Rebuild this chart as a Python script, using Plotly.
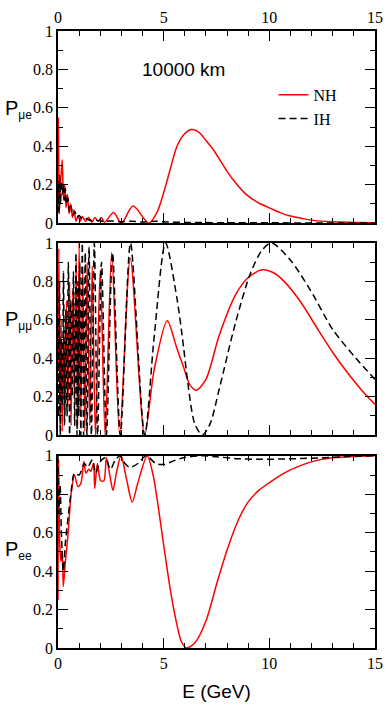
import plotly.graph_objects as go

# P_mu_e (painel de cima)
e_me_nh = [0, 0.02, 0.06, 0.12, 0.2, 0.26, 0.32, 0.38, 0.45, 0.52, 0.6, 0.68, 0.76, 0.85, 0.95, 1.05,
           1.15, 1.3, 1.45, 1.6, 1.75, 1.9, 2.05, 2.2, 2.63, 3.0, 3.55, 4.3, 4.71, 5.02, 5.32, 5.63,
           5.95, 6.3, 6.7, 7.0, 7.3, 7.6, 8.0, 8.4, 8.9, 9.5, 10.0, 10.5, 11.0, 11.5, 12.0, 13.0, 14.0, 15.0]
p_me_nh = [0.1, 0.55, 0.05, 0.2, 0.33, 0.12, 0.2, 0.08, 0.15, 0.05, 0.1, 0.03, 0.07, 0.01, 0.04, 0.01,
           0.035, 0.01, 0.03, 0.005, 0.03, 0.01, 0.03, 0.005, 0.055, 0.0, 0.089, 0.0, 0.063, 0.166, 0.285, 0.40,
           0.46, 0.487, 0.47, 0.43, 0.39, 0.34, 0.27, 0.21, 0.15, 0.105, 0.08, 0.055, 0.037, 0.026, 0.016,
           0.007, 0.004, 0.002]
e_me_ih = [0, 0.04, 0.08, 0.12, 0.16, 0.2, 0.25, 0.3, 0.35, 0.4, 0.47, 0.55, 0.62, 0.7, 0.8, 0.9, 1.0,
           1.15, 1.3, 1.5, 1.8, 2.2, 2.6, 3.0, 3.5, 4.0, 4.6, 5.2, 6.0, 7.0, 8.0, 10.0, 12.0, 15.0]
p_me_ih = [0.2, 0.05, 0.25, 0.1, 0.22, 0.15, 0.2, 0.12, 0.18, 0.1, 0.13, 0.06, 0.09, 0.04, 0.06, 0.03, 0.04,
           0.02, 0.025, 0.015, 0.015, 0.01, 0.012, 0.008, 0.01, 0.006, 0.01, 0.006, 0.004, 0.003, 0.002, 0.002,
           0.001, 0.001]

# P_mu_mu (painel do meio)
e_mm_nh = [0, 0.04, 0.1, 0.15, 0.2, 0.27, 0.33, 0.4, 0.47, 0.55, 0.62, 0.7, 0.78, 0.86, 0.93, 1.0, 1.08,
           1.17, 1.27, 1.38, 1.5, 1.62, 1.77, 2.0, 2.23, 2.54, 2.92, 3.42, 4.1, 4.55, 5.17, 5.6, 5.94, 6.25,
           6.55, 7.0, 7.63, 8.4, 9.0, 9.65, 10.2, 10.7, 11.5, 12.24, 13.0, 13.8, 14.4, 15.0]
p_mm_nh = [0.35, 0.97, 0.05, 0.6, 0.02, 0.55, 0.1, 0.7, 0.15, 0.8, 0.05, 0.75, 0.2, 0.9, 0.05, 1.0, 0.1,
           0.85, 0.02, 0.9, 0.05, 0.88, 0.0, 0.86, 0.0, 0.95, 0.0, 0.92, 0.0, 0.34, 0.595, 0.46, 0.354, 0.26,
           0.234, 0.29, 0.52, 0.73, 0.82, 0.86, 0.845, 0.80, 0.69, 0.56, 0.43, 0.31, 0.23, 0.16]
e_mm_ih = [0, 0.03, 0.07, 0.11, 0.16, 0.21, 0.26, 0.31, 0.37, 0.43, 0.49, 0.55, 0.61, 0.67, 0.73, 0.79,
           0.85, 0.9, 0.94, 0.98, 1.03, 1.08, 1.15, 1.21, 1.29, 1.37, 1.47, 1.58, 1.72, 1.87, 2.06, 2.29,
           2.58, 2.95, 3.43, 4.1, 4.55, 5.09, 5.63, 5.94, 6.09, 6.47, 6.83, 7.2, 7.63, 8.4, 9.1, 9.64, 10.1,
           11.0, 11.94, 13.0, 14.1, 15.0]
p_mm_ih = [0.6, 0.1, 0.8, 0.0, 0.5, 0.15, 0.85, 0.05, 0.65, 0.1, 0.9, 0.0, 0.7, 0.2, 0.85, 0.05,
           0.95, 0.0, 0.8, 0.1, 0.9, 0.0, 1.0, 0.0, 0.95, 0.0, 0.98, 0.0, 1.0, 0.0, 0.9, 0.0,
           0.95, 0.0, 1.0, 0.0, 0.51, 1.0, 0.71, 0.46, 0.32, 0.06, 0.0, 0.06, 0.24, 0.585, 0.84, 0.96, 1.0,
           0.91, 0.755, 0.55, 0.40, 0.29]

# P_ee (painel de baixo)
e_ee_nh = [0, 0.03, 0.08, 0.14, 0.2, 0.25, 0.35, 0.48, 0.63, 0.78, 0.94, 1.09, 1.22, 1.32, 1.45, 1.55,
           1.68, 1.74, 1.86, 2.02, 2.17, 2.29, 2.48, 2.6, 2.78, 2.98, 3.24, 3.51, 3.78, 4.22, 4.5, 4.71, 5.02,
           5.32, 5.63, 5.85, 6.09, 6.5, 7.0, 7.5, 8.0, 8.55, 9.0, 9.5, 10.0, 10.7, 11.5, 12.2, 13.0, 14.0, 15.0]
p_ee_nh = [0.25, 0.98, 0.55, 0.45, 0.5, 0.32, 0.45, 0.6, 0.81, 0.9, 0.84, 0.86, 0.97, 0.91, 0.93, 0.92,
           0.96, 0.83, 0.96, 0.87, 0.87, 0.99, 0.88, 0.82, 0.92, 1.0, 0.88, 0.76, 0.86, 1.0, 0.9, 0.76, 0.52,
           0.3, 0.12, 0.03, 0.0, 0.03, 0.14, 0.33, 0.51, 0.67, 0.76, 0.82, 0.86, 0.91, 0.95, 0.975, 0.99,
           0.997, 1.0]
e_ee_ih = [0, 0.04, 0.1, 0.16, 0.25, 0.35, 0.48, 0.63, 0.78, 1.0, 1.25, 1.4, 1.63, 1.78, 2.0, 2.25, 2.48,
           2.72, 2.94, 3.17, 3.4, 3.78, 4.17, 4.63, 5.02, 5.5, 5.94, 6.86, 7.5, 8.5, 9.5, 10.5, 11.5, 12.5,
           13.5, 15.0]
p_ee_ih = [1.0, 0.7, 0.85, 0.6, 0.4, 0.55, 0.68, 0.82, 0.91, 0.9, 0.96, 0.94, 0.98, 0.91, 0.97, 0.99, 0.93,
           0.98, 1.0, 0.96, 0.94, 0.96, 1.0, 0.96, 0.955, 0.975, 0.99, 1.0, 0.995, 0.985, 0.982, 0.983, 0.986,
           0.99, 0.995, 1.0]

paineis = [
    ('y', 'x', e_me_nh, p_me_nh, e_me_ih, p_me_ih),
    ('y2', 'x2', e_mm_nh, p_mm_nh, e_mm_ih, p_mm_ih),
    ('y3', 'x3', e_ee_nh, p_ee_nh, e_ee_ih, p_ee_ih),
]

fig = go.Figure()
for i, (ya, xa, enh, pnh, eih, pih) in enumerate(paineis):
    fig.add_trace(go.Scatter(x=enh, y=pnh, xaxis=xa, yaxis=ya, mode='lines', name='NH',
                             line=dict(color='#ff0000', width=1.5, shape='spline', smoothing=0.8),
                             showlegend=(i == 0), legendgroup='nh'))
    fig.add_trace(go.Scatter(x=eih, y=pih, xaxis=xa, yaxis=ya, mode='lines', name='IH',
                             line=dict(color='black', width=1.5, dash='7px,4px', shape='spline', smoothing=0.8),
                             showlegend=(i == 0), legendgroup='ih'))

serif = dict(family='Liberation Serif, Times New Roman, serif', size=16, color='black')
sans = 'Liberation Sans, Arial, sans-serif'

eixo_x = dict(range=[0, 15], dtick=5, ticks='inside', ticklen=10, tickwidth=1.2, tickcolor='black',
              minor=dict(dtick=1, ticks='inside', ticklen=5, tickcolor='black', tickwidth=1.2),
              showline=True, linecolor='black', linewidth=1.5, mirror='ticks',
              showgrid=False, zeroline=False, tickfont=serif)
eixo_y = dict(range=[0, 1], dtick=0.2, ticks='inside', ticklen=10, tickwidth=1.2, tickcolor='black',
              minor=dict(dtick=0.1, ticks='inside', ticklen=5, tickcolor='black', tickwidth=1.2),
              showline=True, linecolor='black', linewidth=1.5, mirror='ticks',
              showgrid=False, zeroline=False, tickfont=serif)

dominios = [[0.6885, 1.0], [0.345, 0.6565], [0.0, 0.3115]]

fig.update_layout(
    width=392, height=708,
    margin=dict(l=58, r=9, t=24, b=58),
    plot_bgcolor='white', paper_bgcolor='white',
    xaxis=dict(eixo_x, anchor='y', side='top'),
    xaxis2=dict(eixo_x, anchor='y2', showticklabels=False),
    xaxis3=dict(eixo_x, anchor='y3', title=dict(text='E (GeV)', font=dict(family=sans, size=19, color='black'),
                                                 standoff=14)),
    yaxis=dict(eixo_y, anchor='x', domain=dominios[0]),
    yaxis2=dict(eixo_y, anchor='x2', domain=dominios[1]),
    yaxis3=dict(eixo_y, anchor='x3', domain=dominios[2]),
    legend=dict(x=0.68, y=0.924, xanchor='left', yanchor='top', bgcolor='rgba(0,0,0,0)',
                font=serif, tracegroupgap=0),
)

rotulos = [('y domain', 0.59, 'μe'), ('y2 domain', 0.596, 'μμ'), ('y3 domain', 0.505, 'ee')]
for yref, yv, sub in rotulos:
    txt = 'P<sub><span style="font-size:12px">' + sub + '</span></sub>'
    fig.add_annotation(text=txt, xref='paper', yref=yref, x=-0.172, y=yv, xanchor='left', yanchor='middle',
                       showarrow=False, font=dict(family=sans, size=20, color='black'))

fig.add_annotation(text='10000 km', xref='x', yref='y', x=3.9, y=0.80, xanchor='left', yanchor='middle',
                   showarrow=False, font=dict(family=sans, size=19, color='black'))

fig.write_html("out.html", config={'displayModeBar': False},
               post_script="document.body.style.margin='0';")
